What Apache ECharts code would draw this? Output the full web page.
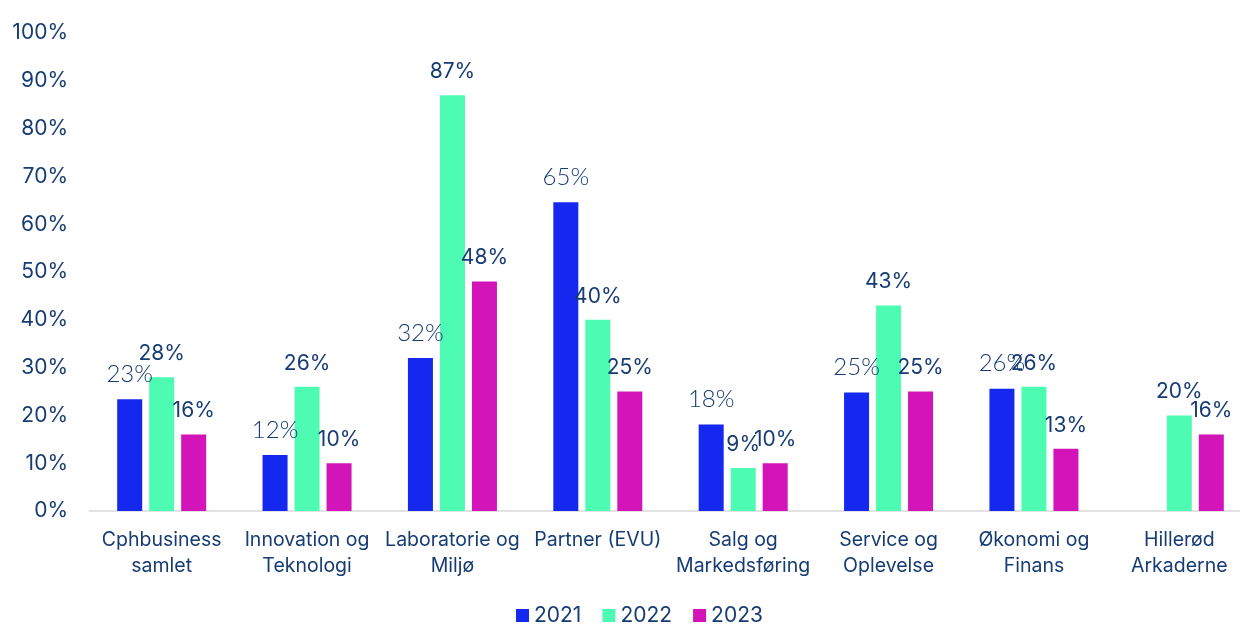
<!DOCTYPE html>
<html>
<head>
<meta charset="utf-8">
<script src="https://cdn.jsdelivr.net/npm/echarts@6/dist/echarts.min.js"></script>
<style>
  html, body { margin: 0; padding: 0; background: #fff; overflow: hidden; }
  #chart { width: 1252px; height: 625px; }
</style>
</head>
<body>
<div id="chart"></div>
<script>
const categories = [
  'Cphbusiness\nsamlet', 'Innovation og\nTeknologi', 'Laboratorie og\nMiljø', 'Partner (EVU)',
  'Salg og\nMarkedsføring', 'Service og\nOplevelse', 'Økonomi og\nFinans', 'Hillerød\nArkaderne'
];
const years = ['2021', '2022', '2023'];
const values2021 = [23.4, 11.7, 32, 64.6, 18.1, 24.8, 25.6, null];
const values2022 = [28, 26, 87, 40, 9, 43, 26, 20];
const values2023 = [16, 10, 48, 25, 10, 25, 13, 16];
const yTicks = [0, 10, 20, 30, 40, 50, 60, 70, 80, 90, 100];

const colors = ['#1428F0', '#4DFBB2', '#D214B8'];
const textColor = '#163C73';
const font = 'Inter, "Open Sans", sans-serif';

function makeSeries(name, data, color, light) {
  return {
    name: name,
    type: 'bar',
    data: data,
    barWidth: 25,
    barGap: '28%',
    itemStyle: { color: color },
    label: {
      show: true,
      position: 'top',
      distance: 13,
      formatter: function (p) { return Math.round(p.value) + '%'; },
      color: textColor,
      fontFamily: light ? 'Lato, ' + font : font,
      fontWeight: light ? 300 : 'normal',
      fontSize: light ? 24 : 21
    }
  };
}

const chart = echarts.init(document.getElementById('chart'));
chart.setOption({
  backgroundColor: '#fff',
  animation: false,
  grid: { left: 89, right: 0, top: 33, bottom: 114 },
  legend: {
    left: 511,
    top: 600,
    itemWidth: 13,
    itemHeight: 13,
    itemGap: 21,
    icon: 'rect',
    textStyle: { color: textColor, fontSize: 21, fontFamily: font },
    data: years
  },
  xAxis: {
    type: 'category',
    data: categories,
    axisLine: { lineStyle: { color: '#D9D9D9', width: 1.5 } },
    axisTick: { show: false },
    axisLabel: {
      interval: 0,
      color: textColor,
      fontSize: 19.5,
      lineHeight: 26,
      margin: 16,
      fontFamily: font
    }
  },
  yAxis: {
    type: 'value',
    min: yTicks[0],
    max: yTicks[yTicks.length - 1],
    interval: 10,
    splitLine: { show: false },
    axisLine: { show: false },
    axisTick: { show: false },
    axisLabel: {
      formatter: '{value}%',
      color: textColor,
      fontSize: 21,
      margin: 21,
      fontFamily: font
    }
  },
  series: [
    makeSeries(years[0], values2021, colors[0], true),
    makeSeries(years[1], values2022, colors[1], false),
    makeSeries(years[2], values2023, colors[2], false)
  ]
});
</script>
</body>
</html>
